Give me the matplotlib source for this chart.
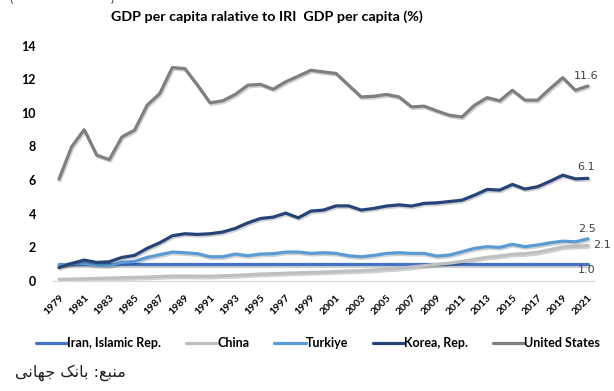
import matplotlib
matplotlib.use("Agg")
import matplotlib.pyplot as plt
import matplotlib.patheffects as pe
import matplotlib.transforms as mtransforms

years = list(range(1979, 2022))

iran = [1.0] * len(years)

china = [0.08, 0.10, 0.12, 0.14, 0.16, 0.18, 0.20, 0.22, 0.25, 0.28,
         0.28, 0.27, 0.27, 0.30, 0.32, 0.36, 0.40, 0.42, 0.45, 0.47,
         0.50, 0.52, 0.55, 0.58, 0.60, 0.64, 0.70, 0.75, 0.82, 0.90,
         0.98, 1.05, 1.15, 1.28, 1.40, 1.48, 1.58, 1.62, 1.70, 1.85,
         2.02, 2.05, 2.10]

turkiye = [0.93, 1.00, 1.03, 0.93, 0.90, 1.10, 1.15, 1.39, 1.55, 1.71,
           1.67, 1.61, 1.43, 1.43, 1.59, 1.49, 1.59, 1.61, 1.71, 1.71,
           1.63, 1.67, 1.63, 1.49, 1.43, 1.51, 1.63, 1.67, 1.63, 1.63,
           1.47, 1.53, 1.73, 1.93, 2.03, 1.99, 2.17, 2.03, 2.13, 2.26,
           2.36, 2.32, 2.50]

korea = [0.78, 1.03, 1.23, 1.09, 1.13, 1.39, 1.51, 1.93, 2.26, 2.68,
         2.80, 2.76, 2.80, 2.90, 3.12, 3.45, 3.71, 3.79, 4.03, 3.75,
         4.15, 4.21, 4.46, 4.46, 4.21, 4.31, 4.45, 4.52, 4.45, 4.61,
         4.64, 4.72, 4.80, 5.10, 5.44, 5.40, 5.74, 5.46, 5.60, 5.93,
         6.29, 6.07, 6.10]

usa = [6.05, 7.98, 9.00, 7.48, 7.22, 8.57, 8.97, 10.46, 11.15, 12.70,
       12.64, 11.65, 10.60, 10.72, 11.10, 11.65, 11.70, 11.41, 11.85, 12.19,
       12.54, 12.44, 12.35, 11.65, 10.95, 10.99, 11.10, 10.95, 10.36, 10.40,
       10.12, 9.86, 9.76, 10.46, 10.91, 10.72, 11.35, 10.76, 10.76, 11.45,
       12.10, 11.35, 11.60]

series = [
    ("Iran, Islamic Rep.", iran, "#4472C4"),
    ("China", china, "#BFBFBF"),
    ("Turkiye", turkiye, "#5B9BD5"),
    ("Korea, Rep.", korea, "#264478"),
    ("United States", usa, "#7F7F7F"),
]

# end-of-line labels: (values, x offset pt, y offset pt, ha)
end_labels = [
    (usa, -1, 7.5, "center"),
    (korea, -1, 8.5, "center"),
    (turkiye, -1, 7, "center"),
    (china, 4, 0, "left"),
    (iran, -1, -4, "center"),
]

plt.rcParams["font.family"] = ["Lato", "DejaVu Sans"]

fig = plt.figure(figsize=(6.14, 3.91), dpi=100)
ax = fig.add_axes([0.0858, 0.282, 0.882, 0.601])

shadow = [pe.SimpleLineShadow(offset=(0.8, -1.2), shadow_color="#000000", alpha=0.18), pe.Normal()]
for name, vals, color in series:
    ax.plot(years, vals, color=color, lw=2.3, label=name,
            solid_joinstyle="round", solid_capstyle="round", path_effects=shadow)

for vals, dx, dy, ha in end_labels:
    ax.annotate(f"{vals[-1]:.1f}", (years[-1], vals[-1]), xytext=(dx, dy),
                textcoords="offset points", ha=ha, va="center",
                fontsize=8, color="#404040", family="DejaVu Sans")

ax.set_xlim(1978.5, 2021.5)
ax.set_ylim(0, 14)
ax.set_yticks(range(0, 15, 2))
ax.set_xticks(years[::2])
ax.set_xticklabels([str(y) for y in years[::2]], rotation=45, ha="right", va="top",
                   rotation_mode="anchor", fontsize=7.5, fontweight="bold")
shift = mtransforms.ScaledTranslation(4 / 72, 0, fig.dpi_scale_trans)
for lbl in ax.get_xticklabels():
    lbl.set_transform(lbl.get_transform() + shift)
for lbl in ax.get_yticklabels():
    lbl.set_fontweight("bold")
ax.tick_params(axis="y", length=0, pad=12, labelsize=9)
ax.tick_params(axis="x", length=0, pad=9)

for side in ["top", "right", "left"]:
    ax.spines[side].set_visible(False)
ax.spines["bottom"].set_color("#D9D9D9")
ax.spines["bottom"].set_linewidth(0.8)

fig.text(0.434, 0.957, "GDP per capita ralative to IRI  GDP per capita (%)",
         ha="center", va="center", fontsize=10.3, fontweight="bold")

# cut-off heading fragment along the top edge
fig.text(0.018, 1.005, "(", ha="center", va="center", fontsize=9, color="#404040")
fig.text(0.183, 1.005, ")", ha="center", va="center", fontsize=9, color="#404040")

leg = fig.legend(loc="center", bbox_to_anchor=(0.518, 0.123), ncol=5, frameon=False,
                 handlelength=2.5, handletextpad=0.0, columnspacing=2.0,
                 prop={"weight": "bold", "size": 9})
for line in leg.get_lines():
    line.set_path_effects([])
    line.set_linewidth(2.3)

# source note, Persian shaped glyphs in visual order
source = "\uFBFD\uFEE7\uFE8E\uFEEC\uFE9F \uFB8F\uFEE7\uFE8E\uFE91 :\uFECA\uFE92\uFEE8\uFEE3"
fig.text(0.024, 0.048, source, ha="left", va="center", fontsize=11.5,
         family="DejaVu Sans", color="#202020")

fig.savefig("out.png", dpi=100)
